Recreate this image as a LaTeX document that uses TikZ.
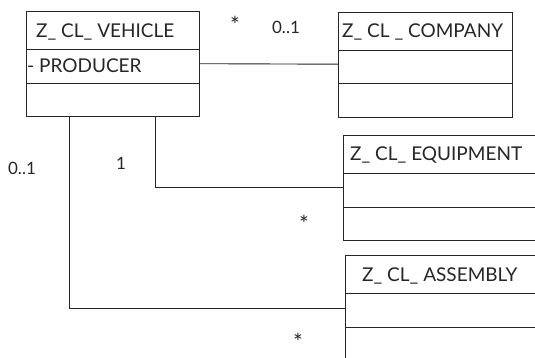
\documentclass[tikz,border=0pt]{standalone}
\usepackage{fontspec}
\setmainfont{Lato}
\begin{document}
\begin{tikzpicture}[x=1pt,y=-1pt,
  comp/.style={draw=black!85,line width=1.4pt,rectangle,inner sep=0pt,anchor=north west},
  lab/.style={font=\fontsize{19}{21}\selectfont,text=black!85,inner sep=0pt,anchor=west},
  conn/.style={draw=black!85,line width=0.9pt},
  mult/.style={font=\fontsize{17}{19}\selectfont,text=black!85,inner sep=0pt},
  star/.style={font=\fontsize{23}{25}\selectfont,text=black!85,inner sep=0pt}]
\useasboundingbox (0,0) rectangle (535,358);
\clip (0,0) rectangle (535,358);
% VEHICLE
\node[comp,minimum width=173pt,minimum height=38pt] (vt) at (26,11) {};
\node[comp,minimum width=173pt,minimum height=34pt] (va) at (26,49) {};
\node[comp,minimum width=173pt,minimum height=33pt] (vo) at (26,83) {};
\node[lab] (vtl) at ([xshift=10pt,yshift=-1pt]vt.west) {Z\_ CL\_ VEHICLE};
\node[lab] (val) at ([xshift=1pt,yshift=1pt]va.west) {- PRODUCER};
% COMPANY
\node[comp,minimum width=174pt,minimum height=38pt] (ct) at (338,12) {};
\node[comp,minimum width=174pt,minimum height=33pt] (ca) at (338,50) {};
\node[comp,minimum width=174pt,minimum height=34pt] (co) at (338,83) {};
\node[lab] (ctl) at ([xshift=4pt,yshift=0pt]ct.west) {Z\_ CL \_ COMPANY};
% EQUIPMENT
\node[comp,minimum width=200pt,minimum height=38pt] (et) at (343,135) {};
\node[comp,minimum width=200pt,minimum height=34pt] (ea) at (343,173) {};
\node[comp,minimum width=200pt,minimum height=33pt] (eo) at (343,207) {};
\node[lab] (etl) at ([xshift=7pt,yshift=0pt]et.west) {Z\_ CL\_ EQUIPMENT};
% ASSEMBLY
\node[comp,minimum width=200pt,minimum height=38pt] (at) at (345,255) {};
\node[comp,minimum width=200pt,minimum height=34pt] (aa) at (345,293) {};
\node[comp,minimum width=200pt,minimum height=40pt] (ao) at (345,327) {};
\node[lab] (atl) at ([xshift=17pt,yshift=-1pt]at.west) {Z\_ CL\_ ASSEMBLY};
% connectors
\draw[conn] ([yshift=3pt]va.east) -- ([yshift=3pt]ca.west);
\draw[conn] (vo.south west) ++(129pt,0) |- ([yshift=3pt]ea.west);
\draw[conn] (vo.south west) ++(43pt,0) |- ([yshift=2pt]aa.west);
% multiplicities
\node[star] (m1) at (235,25) {*};
\node[mult] (m2) at (286,27) {0..1};
\node[mult] (m3) at (22,168) {0..1};
\node[mult] (m4) at (121,163) {1};
\node[star] (m5) at (304,224) {*};
\node[star] (m6) at (298,342) {*};
\end{tikzpicture}
\end{document}
